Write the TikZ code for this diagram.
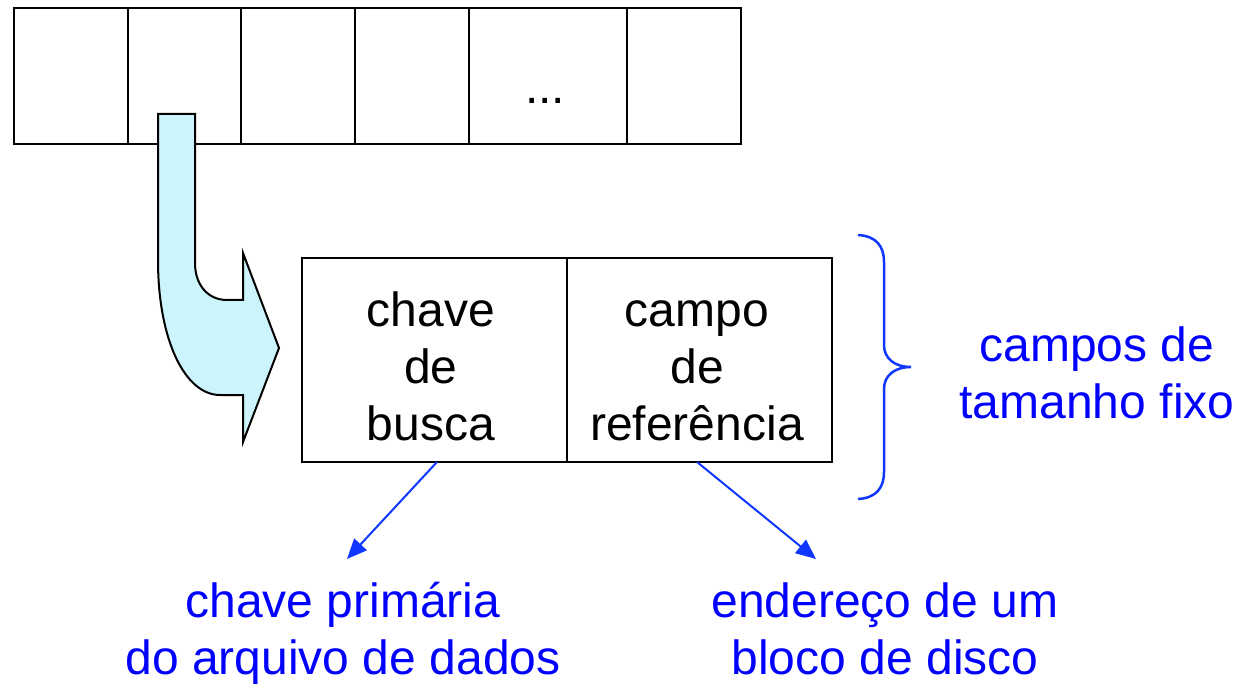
\documentclass[tikz,border=0pt]{standalone}
\usepackage{fontspec}
\setmainfont{Liberation Sans}
\usetikzlibrary{arrows.meta}
\definecolor{lineblue}{RGB}{15,55,255}
\definecolor{textblue}{RGB}{0,0,255}
\definecolor{arrowfill}{RGB}{204,244,252}
\begin{document}
\begin{tikzpicture}[x=1pt,y=-1pt,
  cell/.style={draw,line width=2pt,inner sep=0pt,outer sep=0pt},
  toprow/.style={cell,minimum height=136pt},
  field/.style={cell,minimum height=204pt,minimum width=265pt},
  txt/.style={font=\fontsize{48}{57}\selectfont,align=center,inner sep=0pt},
  bluetxt/.style={txt,text=textblue},
  link/.style={draw=lineblue,line width=2pt,-{Triangle[length=20pt,width=17pt]}},
  bracestyle/.style={draw=lineblue,line width=2.5pt},
  blockarrow/.style={draw,line width=2pt,fill=arrowfill,line join=miter}]
\useasboundingbox (0,0) rectangle (1241,684);
% top row of cells
\node[toprow,minimum width=114pt] (c1) at (71,76) {};
\node[toprow,minimum width=113pt] (c2) at (184.5,76) {};
\node[toprow,minimum width=114pt] (c3) at (298,76) {};
\node[toprow,minimum width=114pt] (c4) at (412,76) {};
\node[toprow,minimum width=158pt] (c5) at (548,76) {};
\node[toprow,minimum width=114pt] (c6) at (684,76) {};
\node[txt,anchor=base] (dots) at (545,104) {...};
% block arrow
\draw[blockarrow] (158,114) -- (195,114) -- (195,263)
  .. controls (195,285) and (208,300) .. (227,300) -- (243,300) -- (243,253)
  -- (279,348) -- (243,442) -- (243,395) -- (220,395)
  .. controls (185,395) and (158,340) .. (158,260) -- cycle;
% index entry
\node[field] (key) at (434.5,360) {};
\node[field] (ref) at (699.5,360) {};
\node[txt] (keytxt) at (431,372.5) {\strut chave\\\strut de\\\strut busca};
\node[txt] (reftxt) at (697,372.5) {\strut campo\\\strut de\\\strut referência};
% brace
\coordinate (btop) at (858,235);
\coordinate (bbot) at (858,499);
\coordinate (btip) at (911,367);
\draw[bracestyle] (btop) .. controls (876,236) and (884,246) .. (884,262)
  -- (884,345) .. controls (884,358) and (894,367) .. (btip)
  .. controls (894,367) and (884,376) .. (884,389)
  -- (884,472) .. controls (884,488) and (876,498) .. (bbot);
\node[bluetxt] (fixo) at (1097,379) {\strut campos de\\\strut tamanho fixo};
% bottom labels
\node[bluetxt] (prim) at (343,635) {\strut chave primária\\\strut do arquivo de dados};
\node[bluetxt] (ender) at (885,635) {\strut endereço de um\\\strut bloco de disco};
\coordinate (lstart) at ([xshift=2.5pt]key.south);
\coordinate (rstart) at ([xshift=-2.5pt]ref.south);
\coordinate (ltip) at (347,559);
\coordinate (rtip) at (816,559);
\draw[link] (lstart) -- (ltip);
\draw[link] (rstart) -- (rtip);
\end{tikzpicture}
\end{document}
